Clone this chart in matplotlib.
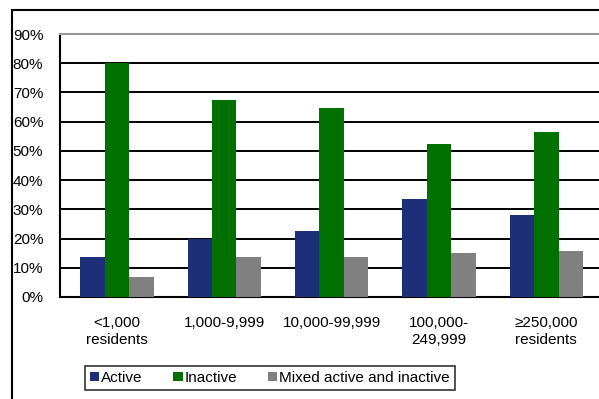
import numpy as np
import matplotlib.pyplot as plt
from matplotlib.patches import Rectangle

plt.rcParams['font.family'] = ['Liberation Sans', 'DejaVu Sans']

categories = ['<1,000\nresidents', '1,000-9,999', '10,000-99,999', '100,000-\n249,999', '≥250,000\nresidents']
active = [13.8, 20.0, 22.6, 33.6, 28.1]
inactive = [80.0, 67.5, 64.7, 52.4, 56.5]
mixed = [7.0, 13.8, 13.8, 15.1, 15.8]
series_names = ['Active', 'Inactive', 'Mixed active and inactive']
colors = ['#1c2f78', '#007000', '#808080']

fig = plt.figure(figsize=(5.99, 3.99), dpi=100)
W, H = 599, 399
ax = fig.add_axes([60 / W, 1 - 297 / H, 540 / W, (297 - 34) / H])

x = np.arange(len(categories))
bw = 0.228
for i, (vals, name, c) in enumerate(zip([active, inactive, mixed], series_names, colors)):
    ax.bar(x + (i - 1) * bw, vals, bw, color=c, label=name, zorder=3)

ax.set_xlim(-0.53, 4.5)
ax.set_ylim(0, 90)
ax.set_yticks(np.arange(0, 91, 10))
ax.set_yticklabels([f'{v}%' for v in range(0, 91, 10)], fontsize=11)
ax.set_xticks(x)
ax.set_xticklabels(categories, fontsize=11, linespacing=1.2)
ax.tick_params(axis='both', length=0)
ax.tick_params(axis='y', pad=12)
ax.tick_params(axis='x', pad=14)

for v in range(10, 90, 10):
    ax.axhline(v, color='black', lw=1.4, zorder=1)

ax.spines['left'].set_linewidth(1.5)
ax.spines['bottom'].set_linewidth(1.5)
ax.spines['top'].set_color('#999999')
ax.spines['top'].set_linewidth(1.5)
ax.spines['right'].set_visible(False)

# outer chart border (cut off at right and bottom)
fig.patches.append(Rectangle((12 / W, -0.05), 1.1, 1 - 10 / H + 0.05, transform=fig.transFigure,
                             fill=False, edgecolor='black', lw=1.5))

leg = fig.legend(loc='center', bbox_to_anchor=(270 / W, 1 - 378 / H), ncol=3, fontsize=11,
                 frameon=True, fancybox=False, edgecolor='black', handlelength=0.6, handleheight=0.6,
                 handletextpad=0.15, columnspacing=2.0, borderpad=0.3)
leg.get_frame().set_linewidth(1.2)

fig.savefig('out.png', dpi=100)
